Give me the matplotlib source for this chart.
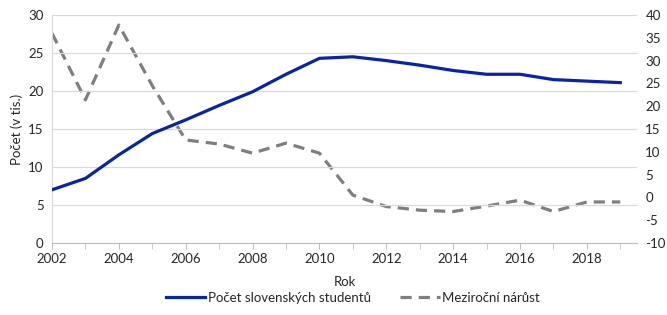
import numpy as np
import matplotlib
matplotlib.use("Agg")
import matplotlib.pyplot as plt  # noqa: E402

years = np.arange(2002, 2020)
students = [7.0, 8.5, 11.6, 14.4, 16.2, 18.1, 19.9, 22.2, 24.3, 24.5,
            24.0, 23.4, 22.7, 22.2, 22.2, 21.5, 21.3, 21.1]
growth = [36.0, 21.4, 37.8, 24.5, 12.6, 11.7, 9.7, 11.9, 9.7, 0.5,
          -2.0, -2.8, -3.1, -1.9, -0.6, -3.1, -1.0, -1.0]

plt.rcParams["font.family"] = ["Lato", "DejaVu Sans"]
plt.rcParams["axes.unicode_minus"] = False
FS = 9.5
TXT = "#262626"


def main():
    fig = plt.figure(figsize=(6.67, 3.15), dpi=100)
    ax = fig.add_axes([52 / 667, 1 - 243 / 315, 585 / 667, 228 / 315])
    ax2 = ax.twinx()

    ax.set_ylim(0, 30)
    ax.set_yticks(np.arange(0, 31, 5))
    ax.set_xlim(2002, 2019.5)
    ax.set_xticks(np.arange(2002, 2019, 2))
    ax.set_xticks(years, minor=True)
    ax.grid(axis="y", color="#d9d9d9", lw=0.9)
    ax.set_axisbelow(True)

    ax2.set_ylim(-10, 40)
    ax2.set_yticks(np.arange(-10, 41, 5))

    ln1, = ax.plot(years, students, color="#0a24a8", lw=2.3,
                   label="Počet slovenských studentů", zorder=3)
    ln2, = ax2.plot(years, growth, color="#7f7f7f", lw=2.3, ls=(0, (3.5, 2.2)),
                    label="Meziroční nárůst", zorder=2)
    ax.set_zorder(ax2.get_zorder() + 1)
    ax.patch.set_visible(False)

    for a in (ax, ax2):
        for s in ("top", "right", "left", "bottom"):
            a.spines[s].set_visible(False)
    ax.spines["left"].set_visible(True)
    ax.spines["left"].set_color("#d9d9d9")
    ax.spines["bottom"].set_visible(True)
    ax.spines["bottom"].set_color("#bfbfbf")

    ax.tick_params(axis="y", length=0, labelsize=FS, labelcolor=TXT, pad=6)
    ax2.tick_params(axis="y", length=0, labelsize=FS, labelcolor=TXT, pad=6)
    ax.tick_params(axis="x", which="both", length=4, color="#bfbfbf",
                   labelsize=FS, labelcolor=TXT, pad=3)

    ax.set_xlabel("Rok", fontsize=FS, color=TXT, labelpad=8)
    ax.set_ylabel("Počet (v tis.)", fontsize=FS, color=TXT, labelpad=4)

    fig.legend(handles=[ln1, ln2], loc="center",
               bbox_to_anchor=(353 / 667, 1 - 298 / 315),
               ncol=2, frameon=False, fontsize=FS, handlelength=3.0,
               columnspacing=2.2, handletextpad=0.2, labelcolor=TXT)

    fig.savefig("out.png", dpi=100)


if __name__ == "__main__":
    main()
